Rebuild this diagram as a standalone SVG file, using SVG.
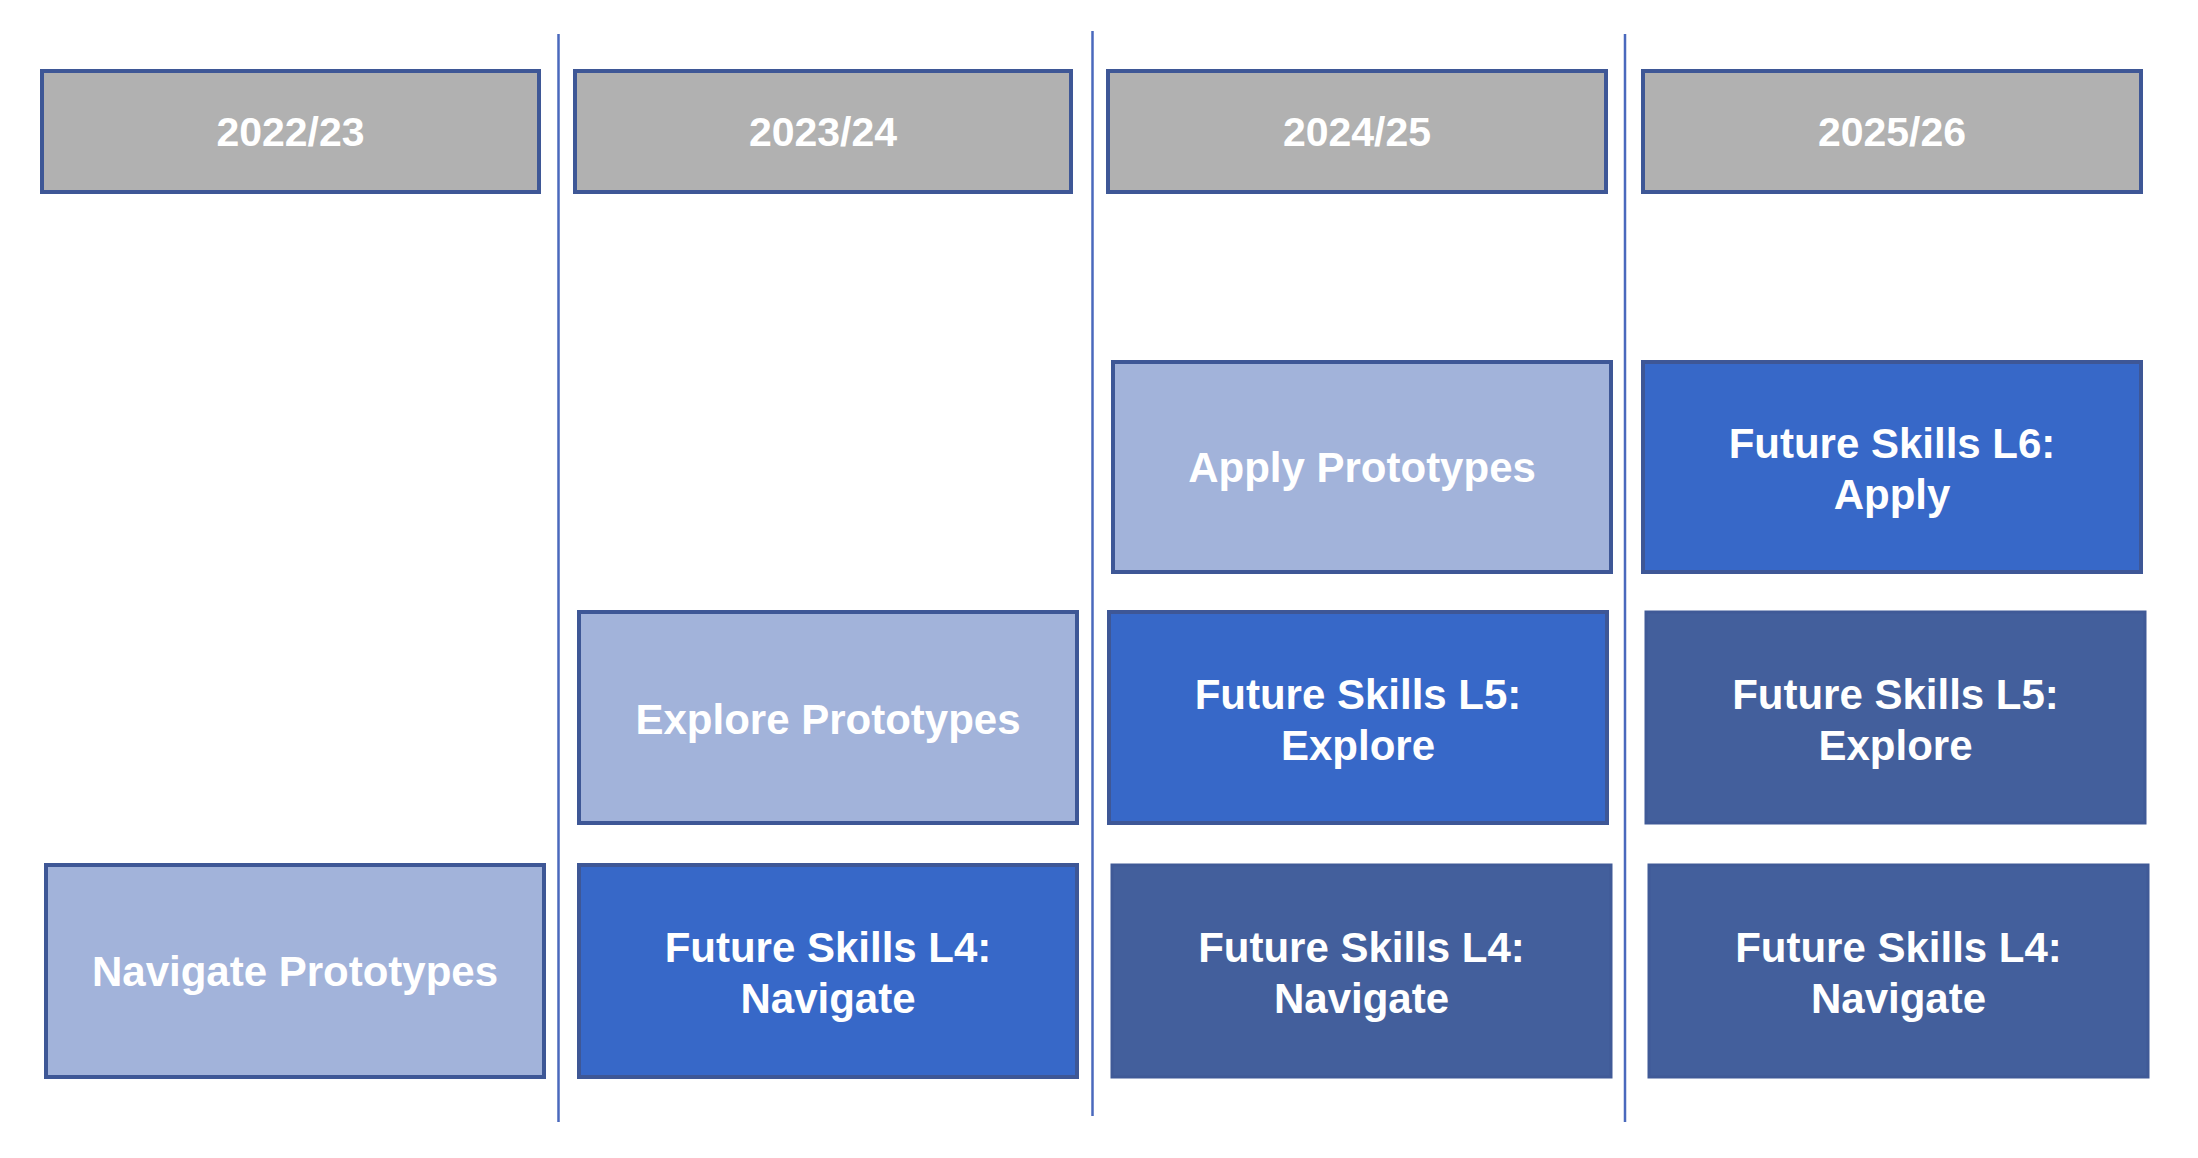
<svg xmlns="http://www.w3.org/2000/svg" width="2198" height="1158" viewBox="0 0 2198 1158">
<style>
.hdr{fill:#b1b1b1;stroke:#3e5796;stroke-width:4}
.lite{fill:#a2b3da;stroke:#3e5796;stroke-width:4}
.bright{fill:#3768c8;stroke:#3e5796;stroke-width:4}
.dark{fill:#435f9c;stroke:#405a97;stroke-width:3}
text{font-family:"Liberation Sans",Arial,sans-serif;font-weight:bold;fill:#ffffff;text-anchor:middle}
.h{font-size:41px}
.b{font-size:42px}
.sep{stroke:#4a69bd;stroke-width:2.5;fill:none}
</style>
<rect width="2198" height="1158" fill="#ffffff"/>
<g id="connectors">
<line class="sep" x1="558.5" y1="34" x2="558.5" y2="1122"/>
<line class="sep" x1="1092.5" y1="31" x2="1092.5" y2="1116"/>
<line class="sep" x1="1625" y1="34" x2="1625" y2="1122"/>
</g>
<g id="h2022"><rect class="hdr" x="42" y="71" width="497" height="121"/><text class="h" x="290.5" y="146">2022/23</text></g>
<g id="h2023"><rect class="hdr" x="575" y="71" width="496" height="121"/><text class="h" x="823" y="146">2023/24</text></g>
<g id="h2024"><rect class="hdr" x="1108" y="71" width="498" height="121"/><text class="h" x="1357" y="146">2024/25</text></g>
<g id="h2025"><rect class="hdr" x="1643" y="71" width="498" height="121"/><text class="h" x="1892" y="146">2025/26</text></g>
<g id="apply-proto"><rect class="lite" x="1113" y="362" width="498" height="210"/><text class="b" x="1362" y="482">Apply Prototypes</text></g>
<g id="fs-l6"><rect class="bright" x="1643" y="362" width="498" height="210"/><text class="b" x="1892" y="458">Future Skills L6:</text><text class="b" x="1892" y="509">Apply</text></g>
<g id="explore-proto"><rect class="lite" x="579" y="612" width="498" height="211"/><text class="b" x="828" y="734">Explore Prototypes</text></g>
<g id="fs-l5-2024"><rect class="bright" x="1109" y="612" width="498" height="211"/><text class="b" x="1358" y="709">Future Skills L5:</text><text class="b" x="1358" y="760">Explore</text></g>
<g id="fs-l5-2025"><rect class="dark" x="1646" y="612" width="499" height="211"/><text class="b" x="1895.5" y="709">Future Skills L5:</text><text class="b" x="1895.5" y="760">Explore</text></g>
<g id="navigate-proto"><rect class="lite" x="46" y="865" width="498" height="212"/><text class="b" x="295" y="986">Navigate Prototypes</text></g>
<g id="fs-l4-2023"><rect class="bright" x="579" y="865" width="498" height="212"/><text class="b" x="828" y="962">Future Skills L4:</text><text class="b" x="828" y="1013">Navigate</text></g>
<g id="fs-l4-2024"><rect class="dark" x="1112" y="865" width="499" height="212"/><text class="b" x="1361.5" y="962">Future Skills L4:</text><text class="b" x="1361.5" y="1013">Navigate</text></g>
<g id="fs-l4-2025"><rect class="dark" x="1649" y="865" width="499" height="212"/><text class="b" x="1898.5" y="962">Future Skills L4:</text><text class="b" x="1898.5" y="1013">Navigate</text></g>
</svg>
